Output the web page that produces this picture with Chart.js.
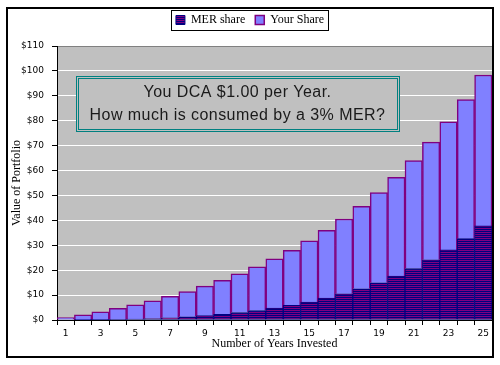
<!DOCTYPE html>
<html>
<head>
<meta charset="utf-8">
<script src="https://cdn.jsdelivr.net/npm/chart.js@4.4.0/dist/chart.umd.min.js"></script>
<style>
  html, body { margin: 0; padding: 0; background: #fff; }
</style>
</head>
<body>
<canvas id="chart" width="500" height="365"></canvas>
<script>
const years = ['1','2','3','4','5','6','7','8','9','10','11','12','13','14','15','16','17','18','19','20','21','22','23','24','25'];
const merShare = [0, 0.03, 0.10, 0.22, 0.39, 0.62, 0.91, 1.29, 1.75, 2.31, 3.00, 3.81, 4.77, 5.90, 7.22, 8.75, 10.52, 12.56, 14.91, 17.60, 20.67, 24.17, 28.14, 32.65, 37.76];
const yourShare = [1.00, 2.07, 3.21, 4.42, 5.72, 7.10, 8.58, 10.15, 11.83, 13.62, 15.53, 17.58, 19.75, 22.08, 24.56, 27.20, 30.02, 33.04, 36.25, 39.68, 43.34, 47.24, 51.40, 55.85, 60.59];
const yMax = 110;
const yStep = 10;
const titleLines = ['You DCA $1.00 per Year.', 'How much is consumed by a 3% MER?'];

// striped fill for the MER bars (purple / navy lines)
const stripe = document.createElement('canvas');
stripe.width = 2; stripe.height = 2;
const sctx = stripe.getContext('2d');
sctx.fillStyle = '#800080'; sctx.fillRect(0, 0, 2, 1);
sctx.fillStyle = '#000080'; sctx.fillRect(0, 1, 2, 1);
const merFill = sctx.createPattern(stripe, 'repeat');

const frame = {
  id: 'frame',
  beforeLayout(chart) {
    const lg = chart.legend;
    if (lg && !lg._patched) {
      const fit = lg.fit;
      lg.fit = function () { fit.call(this); this.height = 42; };
      lg._patched = true;
    }
  },
  beforeDraw(chart) {
    const {ctx, chartArea: a} = chart;
    ctx.save();
    ctx.fillStyle = '#fff';
    ctx.fillRect(0, 0, chart.width, chart.height);
    ctx.fillStyle = '#c0c0c0';
    ctx.fillRect(a.left, a.top, a.right - a.left, a.bottom - a.top);
    ctx.restore();
  },
  afterDraw(chart) {
    const {ctx, chartArea: a} = chart;
    ctx.save();
    // outer border
    ctx.strokeStyle = '#000';
    ctx.lineWidth = 2;
    ctx.strokeRect(7, 8, 486, 349);

    // legend box
    const hb = chart.legend.legendHitBoxes;
    if (hb && hb.length) {
      const l = Math.min(...hb.map(h => h.left)) - 5;
      const r = Math.max(...hb.map(h => h.left + h.width)) + 4;
      const t = Math.min(...hb.map(h => h.top)) - 4;
      const b = Math.max(...hb.map(h => h.top + h.height)) + 4;
      ctx.lineWidth = 1;
      ctx.strokeRect(Math.round(l) + 0.5, Math.round(t) + 0.5, Math.round(r - l), Math.round(b - t));
    }

    // title box inside the plot
    const bx = a.left + 19, by = a.top + 30, bw = 323, bh = 55;
    ctx.fillStyle = '#c0c0c0';
    ctx.fillRect(bx, by, bw, bh);
    ctx.strokeStyle = '#008080';
    ctx.lineWidth = 1;
    ctx.strokeRect(bx + 0.5, by + 0.5, bw, bh);
    ctx.strokeRect(bx + 2.5, by + 2.5, bw - 4, bh - 4);
    ctx.fillStyle = '#1a1a1a';
    ctx.font = '16px "Liberation Sans", Arial, sans-serif';
    ctx.letterSpacing = '0.45px';
    ctx.textAlign = 'center';
    ctx.textBaseline = 'middle';
    ctx.fillText(titleLines[0], bx + bw / 2, by + 17);
    ctx.fillText(titleLines[1], bx + bw / 2, by + 40);
    ctx.restore();
  }
};

new Chart(document.getElementById('chart'), {
  type: 'bar',
  data: {
    labels: years,
    datasets: [
      {
        label: 'MER share',
        data: merShare,
        backgroundColor: merFill,
        borderColor: '#000080',
        borderWidth: 1,
        borderSkipped: false
      },
      {
        label: 'Your Share',
        data: yourShare,
        backgroundColor: '#8080ff',
        borderColor: '#800080',
        borderWidth: 1.5,
        borderSkipped: 'start'
      }
    ]
  },
  options: {
    responsive: false,
    animation: false,
    layout: { padding: { top: 4, left: 8, right: 8, bottom: 8 } },
    datasets: { bar: { categoryPercentage: 1, barPercentage: 1 } },
    plugins: {
      legend: {
        position: 'top',
        labels: {
          color: '#000',
          font: { family: '"Liberation Serif", "Times New Roman", serif', size: 12 },
          boxWidth: 9,
          boxHeight: 9,
          padding: 10
        }
      },
      tooltip: { enabled: false }
    },
    scales: {
      x: {
        stacked: true,
        afterFit(s) { s.height = 37; },
        border: { color: '#000', width: 1 },
        grid: { drawOnChartArea: false, color: '#000', tickLength: 5, offset: true },
        ticks: {
          autoSkip: false,
          maxRotation: 0,
          padding: 3,
          color: '#000',
          font: { family: '"DejaVu Sans", sans-serif', size: 9 },
          callback: (v, i) => (i % 2 === 0 ? years[i] : '')
        },
        title: {
          display: true,
          text: 'Number of Years Invested',
          color: '#000',
          font: { family: '"Liberation Serif", "Times New Roman", serif', size: 12 },
          padding: { top: 0, bottom: 6 }
        }
      },
      y: {
        stacked: true,
        min: 0,
        max: yMax,
        afterFit(s) { s.width = 49; },
        border: { color: '#000', width: 1 },
        grid: {
          color: c => (c.tick.value === yMax ? '#808080' : c.tick.value === 0 ? '#000' : '#fff'),
          tickColor: '#000',
          tickLength: 5,
          lineWidth: 1
        },
        ticks: {
          stepSize: yStep,
          padding: 8,
          color: '#000',
          font: { family: '"DejaVu Sans", sans-serif', size: 9 },
          callback: v => '$' + v
        },
        title: {
          display: true,
          text: 'Value of Portfolio',
          color: '#000',
          font: { family: '"Liberation Serif", "Times New Roman", serif', size: 12 },
          padding: { top: 2, bottom: 0 }
        }
      }
    }
  },
  plugins: [frame]
});
</script>
</body>
</html>
